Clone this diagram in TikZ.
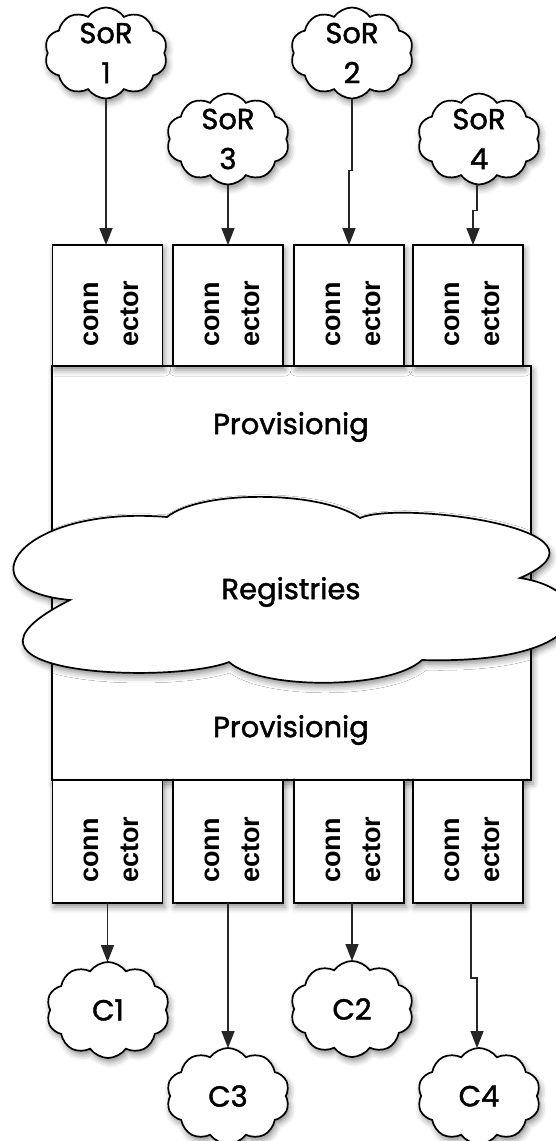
\documentclass[tikz,border=0pt]{standalone}
\usepackage{fontspec}
\setmainfont{Poppins}
\newfontfamily\labelfont{Poppins}[FakeBold=1.5]
\newfontfamily\connfont{Liberation Sans}
\usetikzlibrary{shapes.symbols, arrows.meta, shadows.blur, calc}

\begin{document}
\begin{tikzpicture}[x=1pt, y=-1pt,
  every node/.style={inner sep=0pt, outer sep=0pt},
  softshadow/.style={blur shadow={shadow xshift=2pt, shadow yshift=-4pt,
      shadow blur radius=6pt, shadow opacity=45}},
  frame/.style={draw=black, line width=1.7pt, fill=white, softshadow},
  conntext/.style={xshift=4pt, yshift=-8pt, rotate=90, align=left,
      font={\connfont\bfseries\fontsize{27}{40}\selectfont}},
  connbox/.style={frame, minimum width=110pt, minimum height=121pt,
      label={[conntext]center:conn\\ector}},
  puff/.style={cloud, cloud puffs=10, cloud puff arc=110, cloud ignores aspect,
      frame, minimum width=123pt, minimum height=91pt},
  cloudtext/.style={align=center, font={\labelfont\fontsize{29}{40}\selectfont}},
  arr/.style={draw=black!85, line width=1.7pt,
      -{Triangle[width=13pt,length=17pt]}},
  bigtext/.style={font={\labelfont\fontsize{29}{36}\selectfont}}
]
\useasboundingbox (0,0) rectangle (556,1141);

% provisioning block
\node[frame, minimum width=479pt, minimum height=414pt] (P) at (291.5,573) {};

% connectors above and below the provisioning block
\node[connbox] (K1) at (107.5,305.5) {};
\node[connbox] (K2) at (228,305.5) {};
\node[connbox] (K3) at (349,305.5) {};
\node[connbox] (K4) at (468,305.5) {};
\node[connbox, minimum height=123pt] (B1) at (107.5,841.5) {};
\node[connbox, minimum height=123pt] (B2) at (228,841.5) {};
\node[connbox, minimum height=123pt] (B3) at (349,841.5) {};
\node[connbox, minimum height=123pt] (B4) at (468,841.5) {};

% registries cloud across the middle
\path[frame]
  (70,600) .. controls (-40,590) and (20,505) .. (167,517)
  .. controls (200,490) and (320,490) .. (360,518)
  .. controls (400,500) and (630,530) .. (520,578)
  .. controls (600,590) and (600,665) .. (422,660)
  .. controls (390,690) and (260,690) .. (229,662)
  .. controls (170,685) and (-80,675) .. cycle;

\node[bigtext] (PT1) at (291,427) {Provisionig};
\node[bigtext] (R) at (291,592) {Registries};
\node[bigtext] (PT2) at (291,730) {Provisionig};

% systems of record
\node[puff, label={[cloudtext]center:SoR\\1}] (S1) at (106,53) {};
\node[puff, label={[cloudtext]center:SoR\\2}] (S2) at (352,53) {};
\node[puff, label={[cloudtext]center:SoR\\3}] (S3) at (228,139) {};
\node[puff, label={[cloudtext]center:SoR\\4}] (S4) at (479,139) {};

% consumers
\node[puff, minimum height=96pt, label={[cloudtext]center:C1}] (C1) at (108,1010) {};
\node[puff, minimum height=96pt, label={[cloudtext]center:C2}] (C2) at (352,1009) {};
\node[puff, minimum height=96pt, label={[cloudtext]center:C3}] (C3) at (228,1096) {};
\node[puff, minimum height=96pt, label={[cloudtext]center:C4}] (C4) at (479,1096) {};

% inbound feeds
\draw[arr] (S1.south) -- (S1.south |- K1.north);
\draw[arr] (S3.south) -- (K2.north);
\draw[arr] (S2.south) -- ++(0,72) -| (K3.north);
\draw[arr] ($(S4.south)+(-2,0)$) -- ++(0,26) -| ($(K4.north)+(5,0)$);

% outbound feeds
\draw[arr] (B1.south) -- (B1.south |- C1.north);
\draw[arr] (B2.south) -- (C3.north);
\draw[arr] (B3.south -| C2.north) -- (C2.north);
\draw[arr] ($(B4.south)+(3,0)$) -- ++(0,75) -| ($(C4.north)+(-2,0)$);
\end{tikzpicture}
\end{document}
